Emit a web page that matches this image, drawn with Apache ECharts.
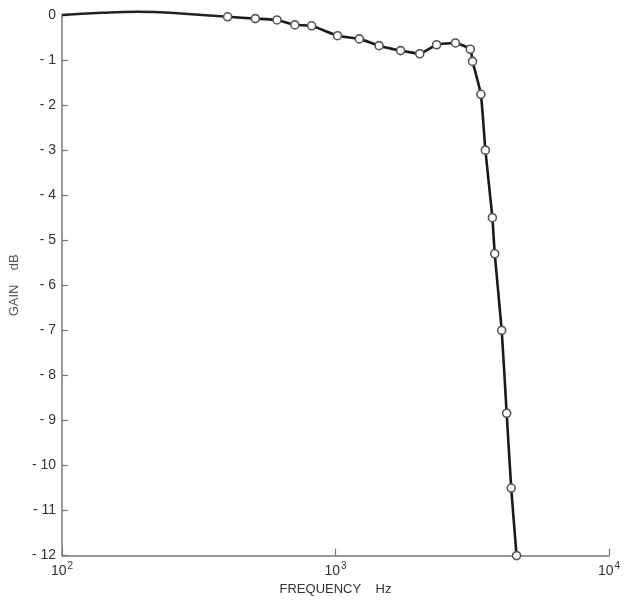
<!DOCTYPE html>
<html>
<head>
<meta charset="utf-8">
<script src="https://cdn.jsdelivr.net/npm/echarts@6/dist/echarts.min.js"></script>
<style>
html,body{margin:0;padding:0;background:#fff;}
#chart{width:641px;height:601px;}
</style>
</head>
<body>
<div id="chart"></div>
<script>
// Unmarked low-frequency part of the curve (Hz, dB)
var lowFreq = [100, 140, 190, 280, 403];
var lowGain = [0, 0.05, 0.07, 0.03, -0.04];
// Measured points (Hz, dB)
var freqs = [403, 509, 611, 710, 818, 1017, 1222, 1443, 1730, 2032, 2342, 2744, 3110, 3170, 3400, 3532, 3746, 3821, 4052, 4225, 4390, 4592];
var gains = [-0.04, -0.08, -0.11, -0.22, -0.24, -0.46, -0.53, -0.68, -0.79, -0.86, -0.66, -0.62, -0.76, -1.03, -1.76, -3.0, -4.5, -5.3, -7.0, -8.84, -10.5, -12.0];
var xTickExps = [2, 3, 4];
var yTicks = [0, -1, -2, -3, -4, -5, -6, -7, -8, -9, -10, -11, -12];

var lowData = lowFreq.map(function (f, i) { return [f, lowGain[i]]; });
var ptData = freqs.map(function (f, i) { return [f, gains[i]]; });

var font = 'Liberation Sans';
var textCol = '#333';
var axisCol = '#777';

var chart = echarts.init(document.getElementById('chart'));
chart.setOption({
  backgroundColor: '#fff',
  animation: false,
  grid: { left: 57, right: 32, top: 15, bottom: 41 },
  xAxis: {
    type: 'log', logBase: 10, min: 100, max: 10000,
    name: 'FREQUENCY    Hz', nameLocation: 'middle', nameGap: 26,
    nameTextStyle: { fontFamily: font, fontSize: 13, color: textCol },
    axisLine: { onZero: false, lineStyle: { color: axisCol, width: 1.5 } },
    axisTick: { inside: true, length: 7, lineStyle: { color: axisCol, width: 1.2 } },
    minorTick: { show: false },
    splitLine: { show: false },
    axisLabel: {
      margin: 6,
      formatter: function (v) {
        var e = Math.round(Math.log10(v));
        if (xTickExps.indexOf(e) < 0) return '';
        return '{b|10}{s|' + e + '}';
      },
      rich: {
        b: { fontFamily: font, fontSize: 14, color: textCol },
        s: { fontFamily: font, fontSize: 10, color: textCol, padding: [0, 0, 9, 1] }
      }
    }
  },
  yAxis: {
    type: 'value', min: -12, max: 0, interval: 1,
    name: 'GAIN    dB', nameLocation: 'middle', nameGap: 32, nameRotate: 90,
    nameTextStyle: { fontFamily: font, fontSize: 13, color: '#555' },
    axisLine: { show: true, onZero: false, lineStyle: { color: axisCol, width: 1.5 } },
    axisTick: { show: true, inside: true, length: 6, lineStyle: { color: axisCol, width: 1.2 } },
    splitLine: { show: false },
    axisLabel: {
      margin: 6, fontFamily: font, fontSize: 14, color: textCol,
      formatter: function (v) { return v === 0 ? '0' : '- ' + Math.abs(v); }
    }
  },
  series: [
    {
      type: 'line', data: lowData, smooth: true, showSymbol: false, symbol: 'none', clip: false,
      lineStyle: { color: '#222', width: 2.5 }, z: 2
    },
    {
      type: 'line', data: ptData, smooth: 0.15, clip: false,
      symbol: 'circle', symbolSize: 8, showSymbol: true,
      lineStyle: { color: '#1a1a1a', width: 2.6 },
      itemStyle: { color: '#fff', borderColor: '#555', borderWidth: 1.6 },
      z: 3
    }
  ]
});
</script>
</body>
</html>
